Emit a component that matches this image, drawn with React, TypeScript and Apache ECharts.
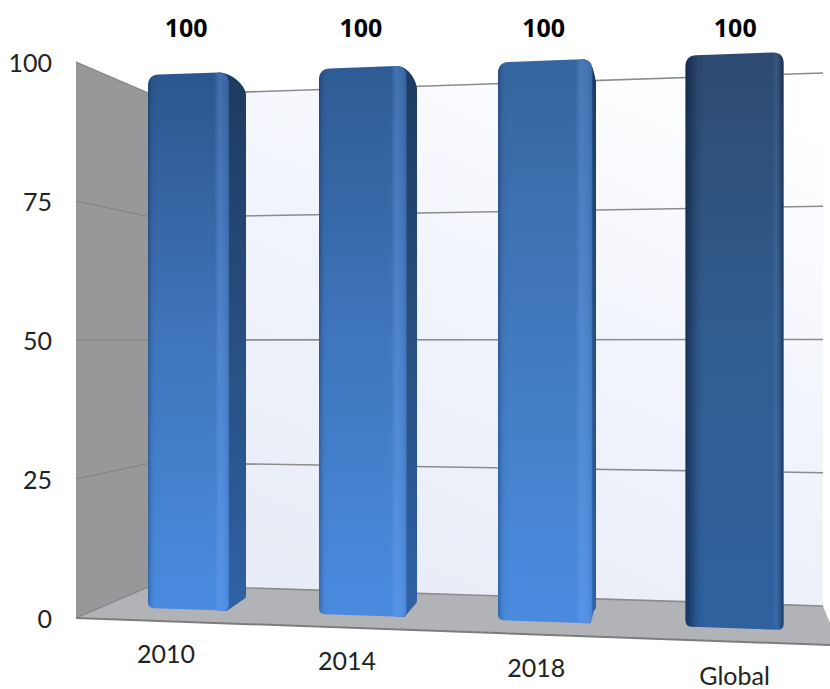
import React, { useEffect, useRef } from "react";
import * as echarts from "echarts";

const categories = ["2010", "2014", "2018", "Global"];
const values = [100, 100, 100, 100];
const valueTicks = [0, 25, 50, 75, 100];

const frontTopColors = ["#2c568d", "#2e5b94", "#36659f", "#2d4a70"];
const frontMidColors = ["#3f75bb", "#3f76bc", "#427abf", "#325d90"];
const frontBottomColors = ["#4a8be0", "#4a8be0", "#4a8be0", "#2f61a0"];

const AXIS_FONT = "Lato, 'Noto Sans', sans-serif";
const LABEL_FONT = "'Open Sans', 'Noto Sans', sans-serif";

// ---- projection of the flat grid into the tilted 3D look ----
const CORNER = { fx: 76, bx: 153, rx: 823, lTop: 95, lBot: 585, rTop: 73, rBot: 606 };
const mix = (a: number, b: number, t: number) => a + (b - a) * t;

// category centre (flat px) -> screen px, a perspective division
function projectX(flat: number, band: number, start: number) {
  const n = (flat - start) / band;
  return (197 + 162.8 * n) / (1 - 0.0223 * n);
}
const frontTop = (x: number) => 75 - 0.036 * (x - 147);
const frontBot = (x: number) => 608 + 0.0345 * (x - 147);
const frontY = (x: number, t: number) => mix(frontBot(x), frontTop(x), t);
const backY = (x: number, t: number) => 341 + (frontY(x, t) - 341) * 0.95;

function gridGeometry(api: any) {
  const zero = api.coord([0, 0]);
  const top = api.coord([0, 100]);
  const one = api.coord([1, 0]);
  return { zeroY: zero[1], topY: top[1], start: zero[0], band: one[0] - zero[0] };
}

const vGrad = (stops: [number, string][]) => ({
  type: "linear", x: 0, y: 0, x2: 0, y2: 1,
  colorStops: stops.map(([offset, color]) => ({ offset, color })),
});
const hGrad = (stops: [number, string][]) => ({
  type: "linear", x: 0, y: 0, x2: 1, y2: 0,
  colorStops: stops.map(([offset, color]) => ({ offset, color })),
});

function renderWalls(_: any, api: any) {
  const g = gridGeometry(api);
  const c = CORNER;
  return {
    type: "group",
    children: [
      {
        type: "polygon",
        shape: { points: [[c.fx, g.topY], [c.bx, c.lTop], [c.bx, c.lBot], [c.fx, g.zeroY]] },
        style: { fill: "#98989a" },
      },
      {
        type: "polygon",
        shape: { points: [[c.bx, c.lTop], [c.rx, c.rTop], [c.rx, c.rBot], [c.bx, c.lBot]] },
        style: {
          fill: {
            type: "linear", x: 0.25, y: 1, x2: 0.8, y2: 0,
            colorStops: [
              { offset: 0, color: "#e8ecf6" },
              { offset: 0.55, color: "#f1f4fc" },
              { offset: 1, color: "#ffffff" },
            ],
          },
        },
      },
      {
        type: "polygon",
        shape: {
          points: [[c.fx, g.zeroY], [c.bx, c.lBot], [c.rx, c.rBot], [830, 623], [830, 645]],
        },
        style: { fill: "#b1b3b6" },
      },
      {
        type: "line",
        shape: { x1: c.fx, y1: g.zeroY, x2: 830, y2: 645 },
        style: { stroke: "#7d7d7f", lineWidth: 2 },
      },
    ],
  };
}

function renderGridline(_: any, api: any) {
  const g = gridGeometry(api);
  const c = CORNER;
  const py = api.coord([0, api.value(1)])[1];
  const t = (g.zeroY - py) / (g.zeroY - g.topY);
  const midY = mix(c.lBot, c.lTop, t);
  const endY = mix(c.rBot, c.rTop, t);
  return {
    type: "group",
    children: [
      {
        type: "line",
        shape: { x1: c.fx, y1: py, x2: c.bx, y2: midY },
        style: { stroke: "#808082", lineWidth: 1.2 },
      },
      {
        type: "line",
        shape: { x1: c.bx, y1: midY, x2: c.rx, y2: endY },
        style: { stroke: "#8c8c8e", lineWidth: 1.6 },
      },
    ],
  };
}

function renderBar(params: any, api: any) {
  const i = params.dataIndex;
  const g = gridGeometry(api);
  const flat = api.coord([api.value(0), api.value(1)]);
  const flatBase = api.coord([api.value(0), 0]);
  const cx = projectX(flat[0], g.band, g.start);
  const t = (flatBase[1] - flat[1]) / (g.zeroY - g.topY);
  const half = g.band * 0.26;
  const L = cx - half;
  const R = cx + half;
  const side = Math.max(0, (693 - R) * 0.0381);
  const F = R - side;
  const topAt = (x: number) => frontY(x, t);
  const botAt = (x: number) => frontY(x, 0);
  const r = 11;

  const front =
    `M ${L} ${topAt(L) + r} Q ${L} ${topAt(L)} ${L + r} ${topAt(L + r)} ` +
    `L ${F - r} ${topAt(F - r)} Q ${F} ${topAt(F)} ${F} ${topAt(F) + r} ` +
    `L ${F} ${botAt(F) - 6} Q ${F} ${botAt(F)} ${F - 6} ${botAt(F - 6)} ` +
    `L ${L + 6} ${botAt(L + 6)} Q ${L} ${botAt(L)} ${L} ${botAt(L) - 6} Z`;

  const children: any[] = [];
  if (side > 0) {
    const by0 = backY(R, t);
    const by1 = backY(R, 0);
    const sidePath =
      `M ${F - r} ${topAt(F - r)} ` +
      `C ${F - 1} ${topAt(F) - 0.5} ${R - 2} ${by0 - 3} ${R} ${by0 + 9} ` +
      `L ${R} ${by1 - 3} Q ${R} ${by1} ${R - 2} ${by1 + 1} ` +
      `L ${F - 2} ${botAt(F - 2)} L ${F - r} ${botAt(F - r)} Z`;
    children.push({
      type: "path",
      shape: { pathData: sidePath },
      style: { fill: vGrad([[0, "#1d3a60"], [0.5, "#284f80"], [1, "#2f62a4"]]) },
    });
  }
  children.push({
    type: "path",
    shape: { pathData: front },
    style: {
      fill: vGrad([[0, frontTopColors[i]], [0.5, frontMidColors[i]], [1, frontBottomColors[i]]]),
    },
  });
  const dark = i === 3;
  children.push({
    type: "path",
    shape: { pathData: front },
    style: {
      fill: dark
        ? hGrad([
            [0, "rgba(8,22,48,0.62)"],
            [0.13, "rgba(8,22,48,0.08)"],
            [0.2, "rgba(8,22,48,0)"],
            [0.88, "rgba(130,170,230,0)"],
            [0.93, "rgba(130,170,230,0.12)"],
            [0.96, "rgba(10,25,50,0.1)"],
            [1, "rgba(8,22,48,0.5)"],
          ])
        : hGrad([
            [0, "rgba(10,28,60,0.32)"],
            [0.05, "rgba(10,28,60,0.06)"],
            [0.1, "rgba(10,28,60,0)"],
            [0.82, "rgba(120,170,245,0)"],
            [0.88, "rgba(120,170,245,0.3)"],
            [0.95, "rgba(120,170,245,0.2)"],
            [1, "rgba(60,100,170,0.3)"],
          ]),
    },
  });
  // value label above the bar
  children.push({
    type: "text",
    style: {
      text: String(api.value(1)),
      x: cx + (cx - 700) * 0.0215,
      y: flat[1] - 35,
      fill: "#000000",
      font: `bold 25px ${LABEL_FONT}`,
      align: "center",
      verticalAlign: "middle",
    },
  });
  // category label, sliding down with the tilted floor
  children.push({
    type: "text",
    style: {
      text: categories[i],
      x: cx + (cx - 734.5) * 0.0575,
      y: 653 + (cx - 197) * 0.041,
      fill: "#222222",
      font: `25px ${AXIS_FONT}`,
      align: "center",
      verticalAlign: "middle",
    },
  });
  return { type: "group", children };
}

export default function App() {
  const ref = useRef<HTMLDivElement>(null);
  useEffect(() => {
    const chart = echarts.init(ref.current!, null, { renderer: "svg" });
    chart.setOption({
      animation: false,
      backgroundColor: "#ffffff",
      grid: { left: 76, right: 0, top: 62, height: 556 },
      xAxis: {
        type: "category",
        data: categories,
        axisLine: { show: false },
        axisTick: { show: false },
        axisLabel: { show: false },
      },
      yAxis: {
        type: "value",
        min: 0,
        max: 100,
        interval: 25,
        axisLine: { show: false },
        axisTick: { show: false },
        splitLine: { show: false },
        axisLabel: { margin: 24, fontSize: 25, color: "#222222", fontFamily: AXIS_FONT },
      },
      series: [
        { type: "custom", coordinateSystem: "cartesian2d", silent: true, data: [[0, 0]], encode: { x: 0, y: 1 }, renderItem: renderWalls },
        { type: "custom", coordinateSystem: "cartesian2d", silent: true, data: valueTicks.map((v) => [0, v]), encode: { x: 0, y: 1 }, renderItem: renderGridline },
        { type: "custom", coordinateSystem: "cartesian2d", silent: true, data: values.map((v, i) => [i, v]), encode: { x: 0, y: 1 }, renderItem: renderBar },
      ],
    });
    return () => chart.dispose();
  }, []);
  return (
    <div
      ref={ref}
      style={{ position: "absolute", left: 0, top: 0, width: 830, height: 689 }}
    />
  );
}
